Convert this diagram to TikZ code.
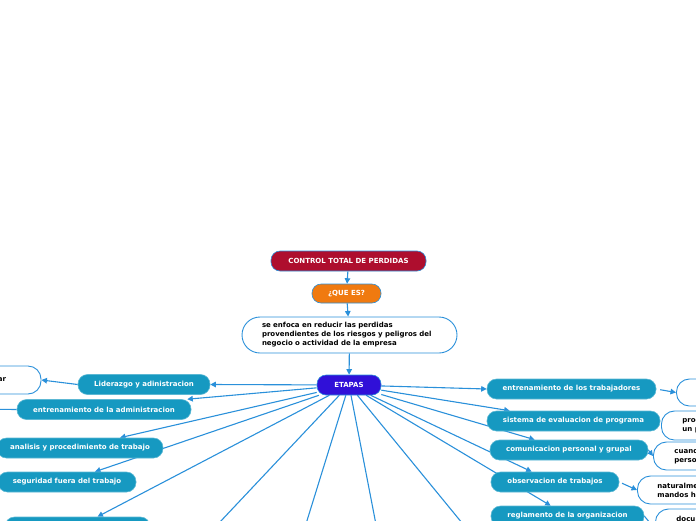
\documentclass[tikz,border=0pt]{standalone}
\usepackage{fontspec}
\setmainfont{DejaVu Sans}
\usetikzlibrary{positioning, arrows.meta, backgrounds}

\definecolor{linkblue}{HTML}{2A90DA}
\definecolor{rootred}{HTML}{AE0E2E}
\definecolor{askorange}{HTML}{F07A10}
\definecolor{stageblue}{HTML}{3010D8}
\definecolor{branchteal}{HTML}{1699C1}

\begin{document}
\begin{tikzpicture}[x=1pt, y=-1pt,
    every node/.style={font=\fontsize{7}{9}\selectfont\bfseries, inner sep=0pt},
    topic/.style={draw=linkblue, line width=0.6pt, rounded corners=9pt, minimum height=20pt, text=white},
    branch/.style={fill=branchteal, draw=branchteal!70!white, line width=0.6pt, rounded corners=9.5pt, minimum height=20pt, text=white},
    note/.style={draw=linkblue, line width=0.9pt, fill=white, rounded corners=13pt, align=left, text=black},
    link/.style={draw=linkblue, line width=1.1pt, -{Triangle[length=5.5pt,width=5.5pt]}},
    bare/.style={draw=linkblue, line width=1.1pt}
  ]
  \useasboundingbox (0,0) rectangle (696,520);
  \clip (0,0) rectangle (696,520);

  % centre column
  \node[topic, fill=rootred, minimum width=155pt] (control) at (348.5,261) {CONTROL TOTAL DE PERDIDAS};
  \node[topic, fill=askorange, minimum width=69pt, minimum height=19pt] (quees) at (346.5,293.5) {¿QUE ES?};
  \node[note, minimum width=215pt, minimum height=36pt, text width=175pt, rounded corners=18pt] (desc) at (349.5,335)
    {se enfoca en reducir las perdidas\\provendientes de los riesgos y peligros del\\negocio o actividad de la empresa};
  \node[topic, fill=stageblue, minimum width=64pt] (etapas) at (349,385) {ETAPAS};

  % left branches
  \node[branch, minimum width=132pt] (lider) at (144,384.5) {Liderazgo y adinistracion};
  \node[branch, minimum width=174pt] (entadm) at (104,409.5) {entrenamiento de la administracion};
  \node[branch, minimum width=166pt] (analisis) at (80,448) {analisis y procedimiento de trabajo};
  \node[branch, minimum width=138pt] (seguridad) at (67,482) {seguridad fuera del trabajo};
  \node[branch, minimum width=145pt] (bottom) at (77.5,527) {};
  \node[note, minimum width=102pt, minimum height=28pt, text width=32pt, align=right] (lnote) at (-10,380) {ar};

  % right branches
  \node[branch, minimum width=169pt] (enttrab) at (571.5,389) {entrenamiento de los trabajadores};
  \node[branch, minimum width=173pt] (sistema) at (573.5,421) {sistema de evaluacion de programa};
  \node[branch, minimum width=158pt] (comunic) at (569,450) {comunicacion personal y grupal};
  \node[branch, minimum width=128pt] (observ) at (555,482) {observacion de trabajos};
  \node[branch, minimum width=153pt] (reglam) at (567.5,516) {reglamento de la organizacion};

  \node[note, anchor=west, minimum height=27pt, minimum width=100pt] (rnote1) at (676,392.5) {};
  \node[note, anchor=west, minimum height=29pt, text width=60pt, inner xsep=21pt] (rnote2) at (661,425.5) {proc\\un p};
  \node[note, anchor=west, minimum height=28pt, text width=60pt, inner xsep=21pt] (rnote3) at (653,456) {cuand\\perso};
  \node[note, anchor=west, minimum height=28pt, text width=60pt, inner xsep=20pt] (rnote4) at (637,490) {naturalme\\mandos h};
  \node[note, anchor=west, minimum height=28pt, text width=60pt, inner xsep=21pt] (rnote5) at (655,523) {docu\\\mbox{}};

  % ends that run out of the picture
  \coordinate (offleft) at (-30,409);
  \coordinate (off1) at (203,540);
  \coordinate (off2) at (301,540);
  \coordinate (off3) at (379,540);
  \coordinate (off4) at (476,540);

  \begin{scope}[on background layer]
    \draw[link] (control) -- (quees);
    \draw[link] (quees) -- (desc);
    \draw[link] (desc) -- (etapas);

    \draw[link] (etapas) -- (lider.east);
    \draw[link] (lider.west) -- (lnote.east);
    \draw[link] (etapas) -- ([xshift=-4pt]entadm.north east);
    \draw[bare] (entadm.west) -- (offleft);
    \draw[link] (etapas) -- ([xshift=40pt]analisis.north);
    \draw[link] (etapas) -- ([xshift=28pt]seguridad.north);
    \draw[link] (etapas) -- ([xshift=20pt]bottom.north);
    \draw[bare] (etapas) -- (off1);
    \draw[bare] (etapas) -- (off2);
    \draw[bare] (etapas) -- (off3);
    \draw[bare] (etapas) -- (off4);

    \draw[link] (etapas) -- (enttrab.west);
    \draw[link, shorten <=4pt] (enttrab.east) -- (rnote1.west);
    \draw[link] (etapas) -- ([xshift=23pt]sistema.north west);
    \draw[link] (etapas) -- ([xshift=45pt]comunic.north west);
    \draw[link] (comunic.east) -- (rnote3.west);
    \draw[link] (etapas) -- ([xshift=41pt]observ.north west);
    \draw[link, shorten <=3pt] (observ.east) -- (rnote4.west);
    \draw[link] (etapas) -- ([xshift=60pt]reglam.north west);
    \draw[link] (reglam.east) -- ([yshift=-6pt]rnote5.west);
  \end{scope}
\end{tikzpicture}
\end{document}
